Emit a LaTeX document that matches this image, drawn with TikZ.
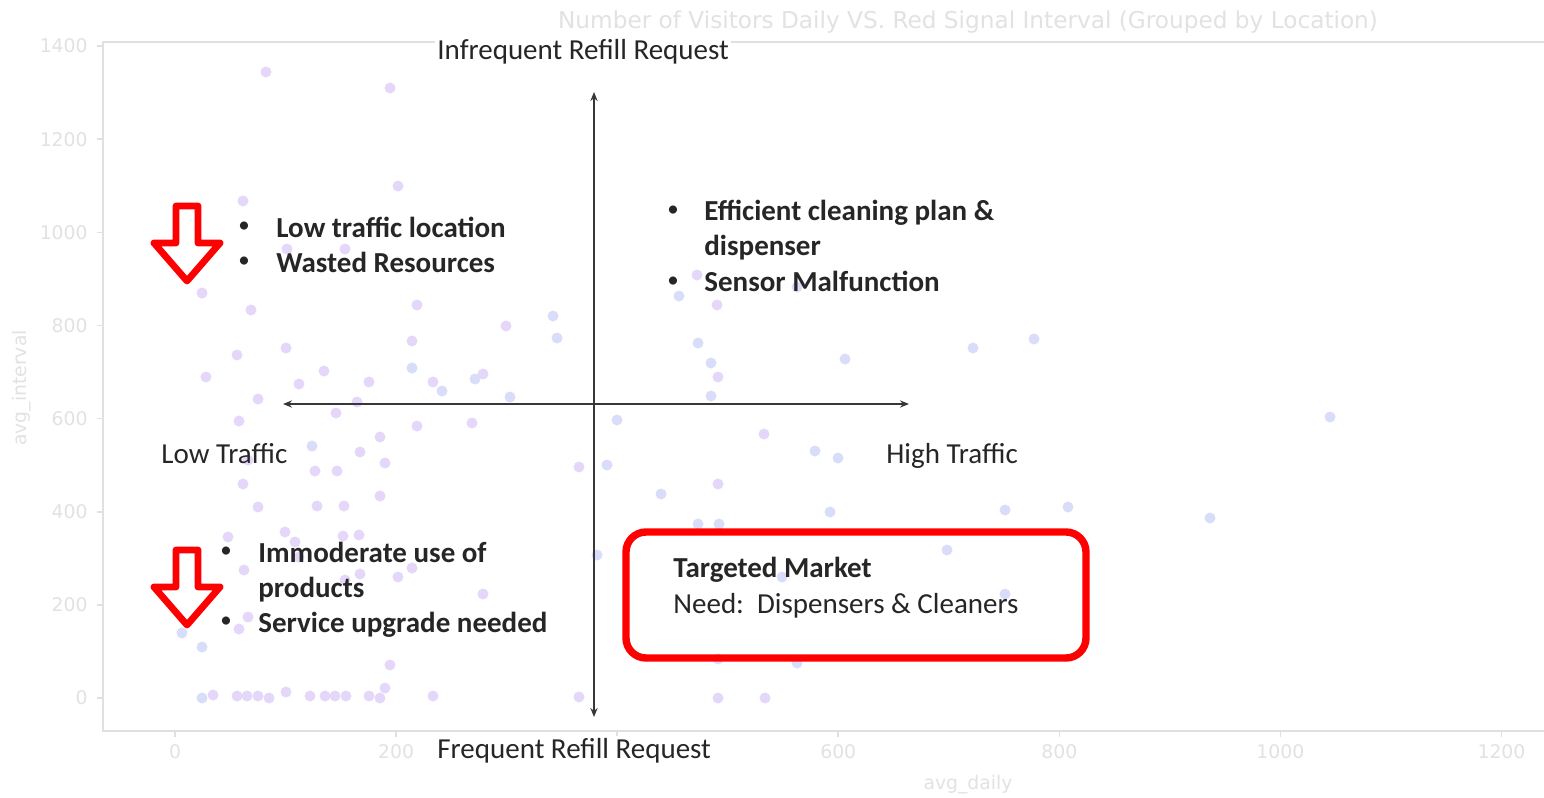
\documentclass[tikz,border=0pt]{standalone}
\usepackage{fontspec}
\setmainfont{Carlito}
\newfontfamily\chartfont{DejaVu Sans}
\usetikzlibrary{arrows.meta}
\definecolor{ink}{RGB}{38,38,38}
\definecolor{faint}{RGB}{226,226,226}
\definecolor{spinecol}{RGB}{224,224,224}
\definecolor{dotA}{RGB}{228,215,250}
\definecolor{dotB}{RGB}{218,221,249}
\definecolor{axisline}{RGB}{55,55,55}
\definecolor{alertred}{RGB}{255,0,0}
\begin{document}
\begin{tikzpicture}[x=0.5pt,y=-0.5pt,
  lbl/.style={anchor=base west, inner sep=0pt, text=ink, font=\fontsize{14.5}{17}\selectfont},
  boldlbl/.style={lbl, font=\fontsize{14.5}{17}\selectfont\bfseries},
  bulletlbl/.style={anchor=center, inner sep=0pt, text=ink, font=\fontsize{11.5}{13}\selectfont},
  faintlbl/.style={inner sep=0pt, text=faint, font=\chartfont\fontsize{9.4}{11}\selectfont},
  titlelbl/.style={anchor=base, inner sep=0pt, text=faint, font=\chartfont\fontsize{11.6}{14}\selectfont},
  spine/.style={draw=spinecol, line width=1pt},
  tickmark/.style={draw=spinecol, line width=0.8pt},
  axisarrow/.style={draw=axisline, line width=0.8pt, {Stealth[length=4.5pt,width=3.6pt]}-{Stealth[length=4.5pt,width=3.6pt]}},
  redarrow/.style={draw=alertred, line width=3.4pt, line join=round, fill=white},
  redbox/.style={draw=alertred, line width=3.7pt, rounded corners=10pt}
]
\useasboundingbox (0,0) rectangle (1544,798);
\fill[white] (0,0) rectangle (1544,798);

% ---- faint chart frame ----
\coordinate (tl) at (103,42);
\coordinate (bl) at (103,731);
\coordinate (tr) at (1544,42);
\coordinate (br) at (1544,731);
\draw[spine] (tr) -- (tl) -- (bl) -- (br);

% y ticks
\foreach \v in {0,200,...,1400}{
  \pgfmathsetmacro{\yy}{698-\v*0.4657}
  \draw[tickmark] (97,\yy) -- (103,\yy);
  \node[faintlbl, anchor=east] (yt\v) at (88,\yy) {\v};
}
% x ticks
\foreach \v in {0,200,...,1200}{
  \pgfmathsetmacro{\xx}{175+\v*1.1054}
  \draw[tickmark] (\xx,731) -- (\xx,737);
  \node[faintlbl] (xt\v) at (\xx,752) {\v};
}
\node[faintlbl] (xlab) at (968,785) {avg\_daily};
\node[faintlbl, rotate=90] (ylab) at (22,388) {avg\_interval};
\node[titlelbl] (title) at (968,28) {Number of Visitors Daily VS. Red Signal Interval (Grouped by Location)};

% ---- faint scatter dots ----
\foreach \p in {(266,72),(390,88),(398,186),(243,201),(287,249),(345,249),(202,293),
 (251,310),(417,305),(506,326),(237,355),(286,348),(206,377),(324,371),(412,341),(299,384),
 (369,382),(433,382),(483,374),(258,399),(357,402),(336,413),(239,421),(417,426),(472,423),
 (380,437),(360,452),(385,463),(248,460),(315,471),(337,471),(243,484),(380,496),(258,507),
 (317,506),(344,506),(228,537),(285,532),(295,542),(343,536),(359,535),(299,557),(244,570),
 (360,574),(398,577),(412,568),(345,580),(483,594),(248,617),(239,629),(390,665),(385,688),
 (213,695),(237,696),(247,696),(258,696),(269,698),(286,692),(310,696),(325,696),(335,696),
 (346,696),(369,696),(380,698),(433,696),(717,305),(718,377),(764,434),(579,467),(718,484),
 (579,697),(718,698),(765,698),(697,275)}{
  \fill[dotA] \p circle[radius=5.5];
}
\foreach \p in {(412,368),(442,391),(475,379),(510,397),(312,446),(182,633),(202,647),(202,698),
 (553,316),(557,338),(679,296),(698,343),(711,363),(711,396),(845,359),(973,348),(1034,339),
 (617,420),(815,451),(838,458),(607,465),(661,494),(830,512),(1005,510),(698,524),(719,524),
 (947,550),(597,555),(782,577),(1005,594),(718,659),(797,663),(1330,417),(1068,507),(1210,518),
 (797,287)}{
  \fill[dotB] \p circle[radius=5.5];
}

% ---- quadrant axes ----
\coordinate (vt) at (594,92);
\coordinate (vb) at (594,717);
\coordinate (hl) at (283,404);
\coordinate (hr) at (909,404);
\draw[axisarrow] (vb) -- (vt);
\draw[axisarrow] (hl) -- (hr);

\node[lbl, fill=white, inner sep=1pt] (inf) at (435,59) {Infrequent Refill Request};
\node[lbl, fill=white, inner sep=1pt] (freq) at (435,758) {Frequent Refill Request};
\node[lbl] (low) at (161,463) {Low Traffic};
\node[lbl] (high) at (886,463) {High Traffic};

% ---- red arrows ----
\draw[redarrow] (176,206) -- (198,206) -- (198,243) -- (220,243) -- (187,281) -- (154,243) -- (176,243) -- cycle;
\draw[redarrow] (176,550) -- (198,550) -- (198,587) -- (220,587) -- (187,625) -- (154,587) -- (176,587) -- cycle;

% ---- top-left bullets ----
\node[bulletlbl] (b1) at (244,227) {•};
\node[boldlbl] (t1) at (276,237) {Low traffic location};
\node[bulletlbl] (b2) at (244,262) {•};
\node[boldlbl] (t2) at (276,272) {Wasted Resources};

% ---- top-right bullets ----
\node[bulletlbl] (b3) at (673,211) {•};
\node[boldlbl] (t3) at (704,220) {Efficient cleaning plan \&};
\node[boldlbl] (t4) at (704,255) {dispenser};
\node[bulletlbl] (b4) at (673,282) {•};
\node[boldlbl] (t5) at (704,291) {Sensor Malfunction};

% ---- bottom-left bullets ----
\node[bulletlbl] (b5) at (226,552) {•};
\node[boldlbl] (t6) at (258,562) {Immoderate use of};
\node[boldlbl] (t7) at (258,597) {products};
\node[bulletlbl] (b6) at (226,622) {•};
\node[boldlbl] (t8) at (258,632) {Service upgrade needed};

% ---- targeted market box ----
\draw[redbox] (626,532) rectangle (1086,658);
\node[boldlbl] (tm) at (673,577) {Targeted Market};
\node[lbl] (need) at (673,613) {Need:\ \ Dispensers \& Cleaners};
\end{tikzpicture}
\end{document}
